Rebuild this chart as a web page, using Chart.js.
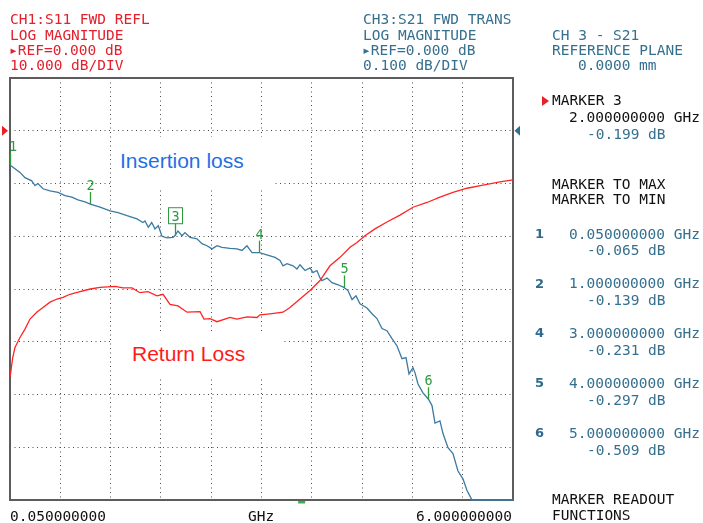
<!DOCTYPE html>
<html><head><meta charset="utf-8">
<script src="https://cdn.jsdelivr.net/npm/chart.js@4.4.1/dist/chart.umd.min.js"></script>
<style>
html,body{margin:0;padding:0;background:#fff;width:703px;height:523px;overflow:hidden}
#wrap{position:relative;width:703px;height:523px}
#c{position:absolute;left:0;top:0}
.t{position:absolute;font-family:"DejaVu Sans Mono",monospace;font-size:14.5px;line-height:14.5px;white-space:pre}
.red{color:#e3212d}.blu{color:#36708f}.blk{color:#111}
.num{position:absolute;font-family:"DejaVu Sans",sans-serif;font-weight:bold;font-size:13px;line-height:13px;color:#2f6a8c}
.box{position:absolute;background:#fff}
.ann{position:absolute;font-family:"Liberation Sans",Arial,sans-serif;font-size:21px;line-height:21px;white-space:pre}
.tri{position:absolute;width:0;height:0;border-top:5px solid transparent;border-bottom:5px solid transparent;border-left:7px solid #e8202a}
</style></head><body>
<div id="wrap">
<canvas id="c" width="703" height="523"></canvas>

<div class="t red" style="left:10px;top:12.3px">CH1:S11 FWD REFL</div>
<div class="t red" style="left:10px;top:27.5px">LOG MAGNITUDE</div>
<div class="t red" style="left:9px;top:42.7px">▸REF=0.000 dB</div>
<div class="t red" style="left:10px;top:57.9px">10.000 dB/DIV</div>

<div class="t blu" style="left:363px;top:12.3px">CH3:S21 FWD TRANS</div>
<div class="t blu" style="left:363px;top:27.5px">LOG MAGNITUDE</div>
<div class="t blu" style="left:362px;top:42.7px">▸REF=0.000 dB</div>
<div class="t blu" style="left:363px;top:57.9px">0.100 dB/DIV</div>

<div class="t blu" style="left:552px;top:27.5px">CH 3 - S21</div>
<div class="t blu" style="left:552px;top:42.7px">REFERENCE PLANE</div>
<div class="t blu" style="left:578px;top:57.9px">0.0000 mm</div>

<div class="tri" style="left:542px;top:95.5px"></div>
<div id="panel"></div>
<div class="t blk" style="left:552px;top:176.6px">MARKER TO MAX</div>
<div class="t blk" style="left:552px;top:191.6px">MARKER TO MIN</div>
<div class="t blk" style="left:552px;top:491.6px">MARKER READOUT</div>
<div class="t blk" style="left:552px;top:508.3px">FUNCTIONS</div>

<div class="t blk" style="left:10px;top:509.3px" id="xl0"></div>
<div class="t blk" style="left:248px;top:509.3px" id="xl1"></div>
<div class="t blk" style="left:416px;top:509.3px" id="xl2"></div>

<div class="box" style="left:112px;top:137px;width:160px;height:50px"></div>
<div class="ann" style="left:120px;top:150.3px;color:#1f6fe5">Insertion loss</div>
<div class="box" style="left:112px;top:332px;width:170px;height:46px"></div>
<div class="ann" style="left:132px;top:343.3px;color:#ff1a1a">Return Loss</div>
</div>
<script>
// ---- data ----
const xStartGHz = 0.05, xStopGHz = 6.0, xDivisions = 10;
const xTickLabels = ["0.050000000", "GHz", "6.000000000"];

const s11Min = -70, s11Max = 10, s11Step = 10;      // CH1, 10 dB/div, ref 0 dB
const s21Min = -0.7, s21Max = 0.1;                   // CH3, 0.1 dB/div, ref 0 dB
const refLevelDb = 0;

const s21FreqGHz = [0.05,0.168,0.227,0.307,0.346,0.381,0.44,0.523,0.618,0.701,
  0.783,0.854,0.937,1.0,1.115,1.233,1.328,1.434,1.552,1.623,
  1.647,1.686,1.726,1.765,1.804,1.848,1.907,1.978,2.0,2.037,
  2.085,2.12,2.179,2.262,2.321,2.38,2.439,2.499,2.558,2.652,
  2.735,2.794,2.853,2.913,3.0,3.126,3.185,3.244,3.279,3.327,
  3.398,3.445,3.48,3.54,3.599,3.634,3.681,3.717,3.741,3.8,
  3.859,3.93,4.0,4.048,4.096,4.143,4.19,4.273,4.332,4.391,
  4.45,4.509,4.569,4.628,4.687,4.734,4.77,4.817,4.841,4.876,
  4.935,5.0,5.042,5.077,5.136,5.172,5.231,5.29,5.349,5.408,
  5.456,5.515,5.75,6.0];
const s21Db = [-0.065,-0.079,-0.089,-0.095,-0.104,-0.100,-0.110,-0.114,-0.117,-0.123,
  -0.126,-0.131,-0.135,-0.139,-0.145,-0.152,-0.155,-0.161,-0.167,-0.174,
  -0.171,-0.183,-0.174,-0.186,-0.180,-0.200,-0.203,-0.202,-0.199,-0.190,
  -0.199,-0.193,-0.202,-0.205,-0.214,-0.218,-0.224,-0.218,-0.221,-0.223,
  -0.224,-0.227,-0.218,-0.231,-0.231,-0.237,-0.240,-0.246,-0.256,-0.252,
  -0.256,-0.262,-0.254,-0.265,-0.260,-0.269,-0.265,-0.279,-0.284,-0.279,
  -0.288,-0.292,-0.297,-0.303,-0.320,-0.313,-0.328,-0.336,-0.347,-0.356,
  -0.375,-0.379,-0.394,-0.408,-0.432,-0.430,-0.461,-0.449,-0.459,-0.480,
  -0.497,-0.509,-0.521,-0.554,-0.550,-0.574,-0.601,-0.612,-0.645,-0.660,
  -0.682,-0.700,-0.700,-0.700];

const s11FreqGHz = [0.05,0.082,0.109,0.168,0.227,0.287,0.366,0.44,0.523,0.606,
  0.677,0.76,0.878,1.0,1.115,1.292,1.387,1.493,1.588,1.682,
  1.789,1.86,1.943,2.037,2.144,2.298,2.345,2.416,2.499,2.652,
  2.735,2.853,2.972,3.007,3.126,3.279,3.362,3.48,3.599,3.717,
  3.835,3.954,4.072,4.155,4.249,4.367,4.509,4.663,4.817,4.983,
  5.136,5.29,5.456,5.645,5.846,6.0];
const s11Db = [-46.8,-43.0,-41.1,-39.2,-37.6,-35.7,-34.4,-33.5,-32.5,-31.9,
  -31.6,-31.0,-30.5,-30.0,-29.7,-29.5,-29.8,-29.8,-30.7,-30.5,
  -31.3,-31.0,-32.9,-33.2,-34.4,-34.3,-35.7,-35.6,-36.2,-35.4,
  -35.7,-35.3,-35.4,-34.9,-34.7,-34.4,-33.5,-31.9,-30.3,-28.4,
  -25.6,-24.0,-22.1,-21.2,-19.9,-18.6,-17.3,-16.0,-14.5,-13.6,
  -12.6,-11.7,-10.9,-10.3,-9.7,-9.3];

const markerIds = ["1","2","3","4","5","6"];
const markerFreqGHz = [0.05,1.0,2.0,3.0,4.0,5.0];
const markerDb = [-0.065,-0.139,-0.199,-0.231,-0.297,-0.509];
const activeMarker = "3";
const stimulusMarkGHz = 3.5;

// ---- text built from data ----
document.getElementById('xl0').textContent = xTickLabels[0];
document.getElementById('xl1').textContent = xTickLabels[1];
document.getElementById('xl2').textContent = xTickLabels[2];
(function(){
  const p = document.getElementById('panel');
  const add = (cls, txt, l, t) => { const d = document.createElement('div'); d.className = cls; d.textContent = txt; d.style.left = l + 'px'; d.style.top = t + 'px'; p.appendChild(d); };
  const ai = markerIds.indexOf(activeMarker);
  add('t blk', 'MARKER ' + activeMarker, 552, 93.3);
  add('t blk', markerFreqGHz[ai].toFixed(9) + ' GHz', 569, 110.3);
  add('t blu', markerDb[ai].toFixed(3) + ' dB', 587, 126.6);
  let j = 0;
  markerIds.forEach((id, i) => {
    if (id === activeMarker) return;
    const top = 226.6 + j * 49.8;
    add('num', id, 535, top + 0.2);
    add('t blu', markerFreqGHz[i].toFixed(9) + ' GHz', 569, top);
    add('t blu', markerDb[i].toFixed(3) + ' dB', 587, top + 16.8);
    j++;
  });
})();

// ---- chart ----
const green = '#2e9a3e';
const frame = {
  id: 'frame',
  beforeDatasetsDraw(chart) {
    const { ctx, chartArea: a } = chart;
    ctx.save();
    ctx.strokeStyle = '#5c5c5c'; ctx.lineWidth = 2;
    ctx.strokeRect(a.left, a.top, a.right - a.left, a.bottom - a.top);
    ctx.restore();
  }
};
const overlay = {
  id: 'overlay',
  afterDatasetsDraw(chart) {
    const { ctx, chartArea: a, scales } = chart;
    const xs = scales.x, ys = scales.y, y2 = scales.y2;
    ctx.save();
    // reference triangles
    const ry = ys.getPixelForValue(refLevelDb);
    ctx.fillStyle = '#ee1c24';
    ctx.beginPath(); ctx.moveTo(2, ry - 5); ctx.lineTo(8, ry); ctx.lineTo(2, ry + 5); ctx.closePath(); ctx.fill();
    const ry2 = y2.getPixelForValue(refLevelDb);
    ctx.fillStyle = '#2f6f96';
    ctx.beginPath(); ctx.moveTo(520, ry2 - 5); ctx.lineTo(514.5, ry2); ctx.lineTo(520, ry2 + 5); ctx.closePath(); ctx.fill();
    // stimulus mark
    ctx.fillStyle = '#3bb04a';
    const sx = xs.getPixelForValue(stimulusMarkGHz);
    ctx.fillRect(sx - 3.5, a.bottom + 1, 7, 2.5);
    // markers
    ctx.strokeStyle = green; ctx.fillStyle = green; ctx.lineWidth = 1.3;
    ctx.font = '13.5px "DejaVu Sans Mono"';
    ctx.textAlign = 'center'; ctx.textBaseline = 'alphabetic';
    markerIds.forEach((id, i) => {
      const x = Math.round(xs.getPixelForValue(markerFreqGHz[i])) + 0.5;
      const y = y2.getPixelForValue(markerDb[i]);
      ctx.beginPath(); ctx.moveTo(x, y); ctx.lineTo(x, y - 12); ctx.stroke();
      if (id === activeMarker) {
        ctx.lineWidth = 1;
        ctx.strokeRect(x - 7, y - 28, 14, 16);
        ctx.fillText(id, x, y - 15);
        ctx.lineWidth = 1.3;
      } else {
        const tx = Math.max(x, a.left + 3);
        ctx.fillText(id, tx, y - 14);
      }
    });
    ctx.restore();
  }
};

new Chart(document.getElementById('c'), {
  type: 'line',
  data: {
    datasets: [
      { label: 'CH1 S11', data: s11FreqGHz.map((f, i) => ({ x: f, y: s11Db[i] })), yAxisID: 'y',
        borderColor: '#ff2424', borderWidth: 1.3, pointRadius: 0, tension: 0 },
      { label: 'CH3 S21', data: s21FreqGHz.map((f, i) => ({ x: f, y: s21Db[i] })), yAxisID: 'y2',
        borderColor: '#3a7aa3', borderWidth: 1.3, pointRadius: 0, tension: 0,
        clip: { left: 1, top: 1, right: 1, bottom: 2 } }
    ]
  },
  options: {
    responsive: false, animation: false, maintainAspectRatio: false,
    layout: { padding: { left: 10, top: 78, right: 190, bottom: 23 } },
    plugins: { legend: { display: false }, tooltip: { enabled: false } },
    scales: {
      x: { type: 'linear', min: xStartGHz, max: xStopGHz,
        afterBuildTicks: s => { s.ticks = Array.from({ length: xDivisions + 1 }, (_, i) => ({ value: xStartGHz + i * (xStopGHz - xStartGHz) / xDivisions })); },
        ticks: { display: false },
        grid: { color: '#4a4a4a', lineWidth: 1, drawTicks: false },
        border: { display: false, dash: [1, 3.5] } },
      y: { type: 'linear', min: s11Min, max: s11Max, ticks: { display: false, stepSize: s11Step },
        grid: { color: '#4a4a4a', lineWidth: 1, drawTicks: false },
        border: { display: false, dash: [1, 3.5] } },
      y2: { type: 'linear', position: 'right', min: s21Min, max: s21Max, display: false }
    }
  },
  plugins: [frame, overlay]
});
</script>
</body></html>
